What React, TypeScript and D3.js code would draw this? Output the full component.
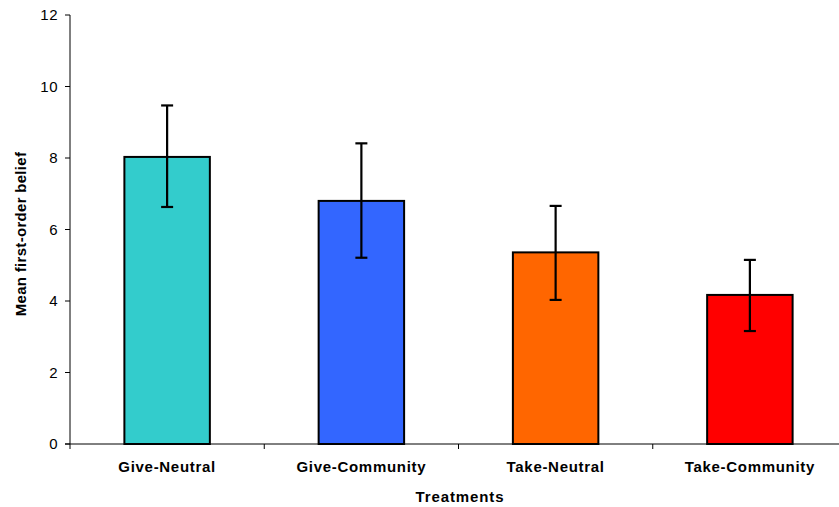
import React from "react";
import * as d3 from "d3";

const categories = ["Give-Neutral", "Give-Community", "Take-Neutral", "Take-Community"];
const means = [8.03, 6.8, 5.36, 4.17];
const lower = [6.63, 5.21, 4.03, 3.16];
const upper = [9.47, 8.41, 6.66, 5.15];
const colors = ["#33CCCC", "#3366FF", "#FF6600", "#FF0000"];
const yTicks = [0, 2, 4, 6, 8, 10, 12];

export default function App() {
  const W = 839, H = 507;
  const left = 70, right = 847, top = 15, bottom = 444;
  const x = d3.scaleBand<string>().domain(categories).range([left, right]).paddingInner(0).paddingOuter(0);
  const y = d3.scaleLinear().domain([0, 12]).range([bottom, top]);
  const bw = x.bandwidth() * 0.44;
  const font = "'Liberation Sans', Arial, sans-serif";
  const bounds = [left, ...categories.map((c) => (x(c) as number) + x.bandwidth())];
  return (
    <svg width={W} height={H} style={{ position: "absolute", left: 0, top: 0, background: "#fff" }} fontFamily={font}>
      {categories.map((c, i) => {
        const cx = (x(c) as number) + x.bandwidth() / 2;
        return (
          <g key={c}>
            <rect x={cx - bw / 2} y={y(means[i])} width={bw} height={bottom - y(means[i])} fill={colors[i]} stroke="#000" strokeWidth={2} />
            <line x1={cx} x2={cx} y1={y(upper[i])} y2={y(lower[i])} stroke="#000" strokeWidth={2.2} />
            <line x1={cx - 6} x2={cx + 6} y1={y(upper[i])} y2={y(upper[i])} stroke="#000" strokeWidth={2.2} />
            <line x1={cx - 6} x2={cx + 6} y1={y(lower[i])} y2={y(lower[i])} stroke="#000" strokeWidth={2.2} />
            <text x={cx} y={472} textAnchor="middle" fontSize={15} fontWeight="bold" letterSpacing={0.7}>{c}</text>
          </g>
        );
      })}
      <line x1={left} x2={left} y1={top} y2={bottom} stroke="#000" strokeWidth={1} />
      <line x1={left - 5} x2={right} y1={bottom} y2={bottom} stroke="#000" strokeWidth={1} />
      {yTicks.map((t) => (
        <g key={t}>
          <line x1={left - 5} x2={left} y1={y(t)} y2={y(t)} stroke="#000" />
          <text x={left - 12} y={y(t) + 5} textAnchor="end" fontSize={15} letterSpacing={0.5}>{t}</text>
        </g>
      ))}
      {bounds.map((b, i) => (
        <line key={i} x1={b} x2={b} y1={bottom} y2={bottom + 5} stroke="#000" />
      ))}
      <text x={460} y={502} textAnchor="middle" fontSize={15} fontWeight="bold" letterSpacing={0.9}>Treatments</text>
      <text transform={`translate(26,234) rotate(-90)`} textAnchor="middle" fontSize={15} fontWeight="bold" letterSpacing={0.3}>Mean first-order belief</text>
    </svg>
  );
}
